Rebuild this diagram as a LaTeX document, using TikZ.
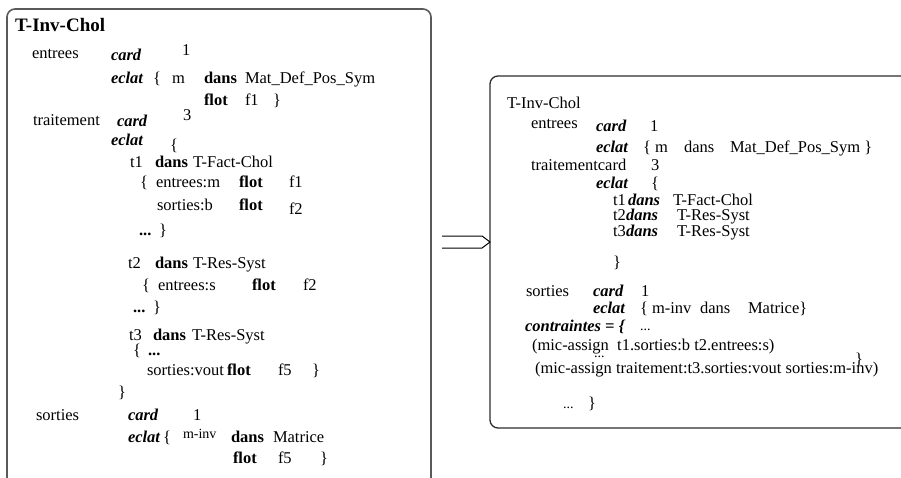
\documentclass[tikz,border=0pt]{standalone}
\usepackage{fontspec}
\setmainfont{Liberation Serif}
\definecolor{boxgray}{RGB}{90,90,90}
\definecolor{boxdark}{RGB}{45,45,45}
\begin{document}
\begin{tikzpicture}[x=1pt,y=-1pt,
  every node/.style={inner sep=0pt, outer sep=0pt, anchor=base west, font=\fontsize{16.5}{19}\selectfont},
  bf/.style={font=\fontsize{16.5}{19}\selectfont\bfseries},
  bi/.style={font=\fontsize{16.5}{19}\selectfont\bfseries\itshape},
  sm/.style={font=\fontsize{14}{16}\selectfont},
  ttl/.style={font=\fontsize{19}{22}\selectfont\bfseries},
  leftbox/.style={draw=boxgray, line width=1.6pt, rounded corners=8pt, anchor=north west, minimum width=424pt, minimum height=490pt},
  rightbox/.style={draw=boxdark, line width=1.3pt, rounded corners=8pt, anchor=north west, minimum width=440pt, minimum height=352pt},
  arr/.style={draw=black, line width=1pt},
]
\useasboundingbox (0,0) rectangle (901,477);
\clip (0,0) rectangle (901,477);
% boxes
\node[leftbox] (L) at (7,9) {};
\node[rightbox] (R) at (490,76) {};
% arrow
\coordinate (a1) at (442,236);
\coordinate (a2) at (482,236);
\coordinate (b1) at (442,248);
\coordinate (b2) at (482,248);
\coordinate (tip) at (R.west |- 0,242);
\draw[arr] (a1) -- (a2) -- (tip) -- (b2) -- (b1);
% ---------- left box ----------
\node[ttl] (ltitle) at (15,31) {T-Inv-Chol};
\node (le1) at (32,58) {entrees};
\node[bi] (lc1) at (111,60) {card};
\node (ln1) at (182,55) {1};
\node[bi] (lec1) at (111,83) {eclat};
\node (lb1) at (153,83) {\{};
\node (lm1) at (172,83) {m};
\node[bf] (ld1) at (204,83) {dans};
\node (lt1) at (245,83) {Mat\_Def\_Pos\_Sym};
\node[bf] (lf1) at (204,105) {flot};
\node (lf1v) at (245,105) {f1};
\node (lb1c) at (273,105) {\}};
\node (ltr) at (33,125) {traitement};
\node[bi] (lc2) at (117,126) {card};
\node (ln2) at (183,120) {3};
\node[bi] (lec2) at (111,145) {eclat};
\node (lb2) at (170,150) {\{};
\node (lt1n) at (130,167) {t1};
\node[bf] (lt1d) at (155,167) {dans};
\node (lt1t) at (193,167) {T-Fact-Chol};
\node (lt1b) at (140,187) {\{};
\node (lt1e) at (156,187) {entrees:m};
\node[bf] (lt1f) at (239,187) {flot};
\node (lt1fv) at (289,187) {f1};
\node (lt1s) at (157,210) {sorties:b};
\node[bf] (lt1f2) at (239,210) {flot};
\node (lt1f2v) at (289,214) {f2};
\node[bf] (lt1dots) at (139,235) {...};
\node (lt1c) at (159,235) {\}};
\node (lt2n) at (128,268) {t2};
\node[bf] (lt2d) at (155,268) {dans};
\node (lt2t) at (193,268) {T-Res-Syst};
\node (lt2b) at (142,290) {\{};
\node (lt2e) at (158,290) {entrees:s};
\node[bf] (lt2f) at (252,290) {flot};
\node (lt2fv) at (303,290) {f2};
\node[bf] (lt2dots) at (133,312) {...};
\node (lt2c) at (153,312) {\}};
\node (lt3n) at (129,340) {t3};
\node[bf] (lt3d) at (153,340) {dans};
\node (lt3t) at (192,340) {T-Res-Syst};
\node (lt3b) at (133,355) {\{};
\node[bf] (lt3dots) at (148,355) {...};
\node (lt3s) at (147,375) {sorties:vout};
\node[bf] (lt3f) at (227,375) {flot};
\node (lt3fv) at (278,375) {f5};
\node (lt3c) at (312,375) {\}};
\node (ltrc) at (118,397) {\}};
\node (lso) at (36,420) {sorties};
\node[bi] (lc3) at (128,420) {card};
\node (ln3) at (193,420) {1};
\node[bi] (lec3) at (128,442) {eclat};
\node (lb3) at (163,442) {\{};
\node[sm] (lminv) at (183,438) {m-inv};
\node[bf] (ld3) at (231,442) {dans};
\node (lmat) at (273,442) {Matrice};
\node[bf] (lf3) at (233,463) {flot};
\node (lf3v) at (278,463) {f5};
\node (lb3c) at (320,463) {\}};
% ---------- right box ----------
\node (rtitle) at (507,108) {T-Inv-Chol};
\node (re1) at (531,128) {entrees};
\node[bi] (rc1) at (596,131) {card};
\node (rn1) at (650,131) {1};
\node[bi] (rec1) at (596,152) {eclat};
\node (rm1) at (643,152) {\{ m};
\node (rd1) at (684,152) {dans};
\node (rt1) at (730,152) {Mat\_Def\_Pos\_Sym \}};
\node (rtr) at (531,170) {traitementcard};
\node (rn2) at (651,170) {3};
\node[bi] (rec2) at (596,188) {eclat};
\node (rb2) at (651,188) {\{};
\node (rt1n) at (613,205) {t1};
\node[bi] (rt1d) at (628,205) {dans};
\node (rt1t) at (673,205) {T-Fact-Chol};
\node (rt2n) at (613,220) {t2};
\node[bi] (rt2d) at (626,220) {dans};
\node (rt2t) at (677,220) {T-Res-Syst};
\node (rt3n) at (613,236) {t3};
\node[bi] (rt3d) at (626,236) {dans};
\node (rt3t) at (677,236) {T-Res-Syst};
\node (rtrc) at (613,267) {\}};
\node (rso) at (526,296) {sorties};
\node[bi] (rc3) at (593,296) {card};
\node (rn3) at (641,296) {1};
\node[bi] (rec3) at (593,313) {eclat};
\node (rminv) at (640,313) {\{ m-inv};
\node (rd3) at (700,313) {dans};
\node (rmat) at (748,313) {Matrice\}};
\node[bi] (rcon) at (525,331) {contraintes = \{};
\node[sm] (rcdots) at (640,330) {...};
\node (rmic1) at (532,350) {(mic-assign\ \ t1.sorties:b t2.entrees:s)};
\node[sm] (rmdots) at (594,357) {...};
\node (rmc) at (855,364) {\}};
\node (rmic2) at (535,373) {(mic-assign traitement:t3.sorties:vout sorties:m-inv)};
\node[sm] (redots) at (563,408) {...};
\node (rend) at (588,408) {\}};
\end{tikzpicture}
\end{document}
